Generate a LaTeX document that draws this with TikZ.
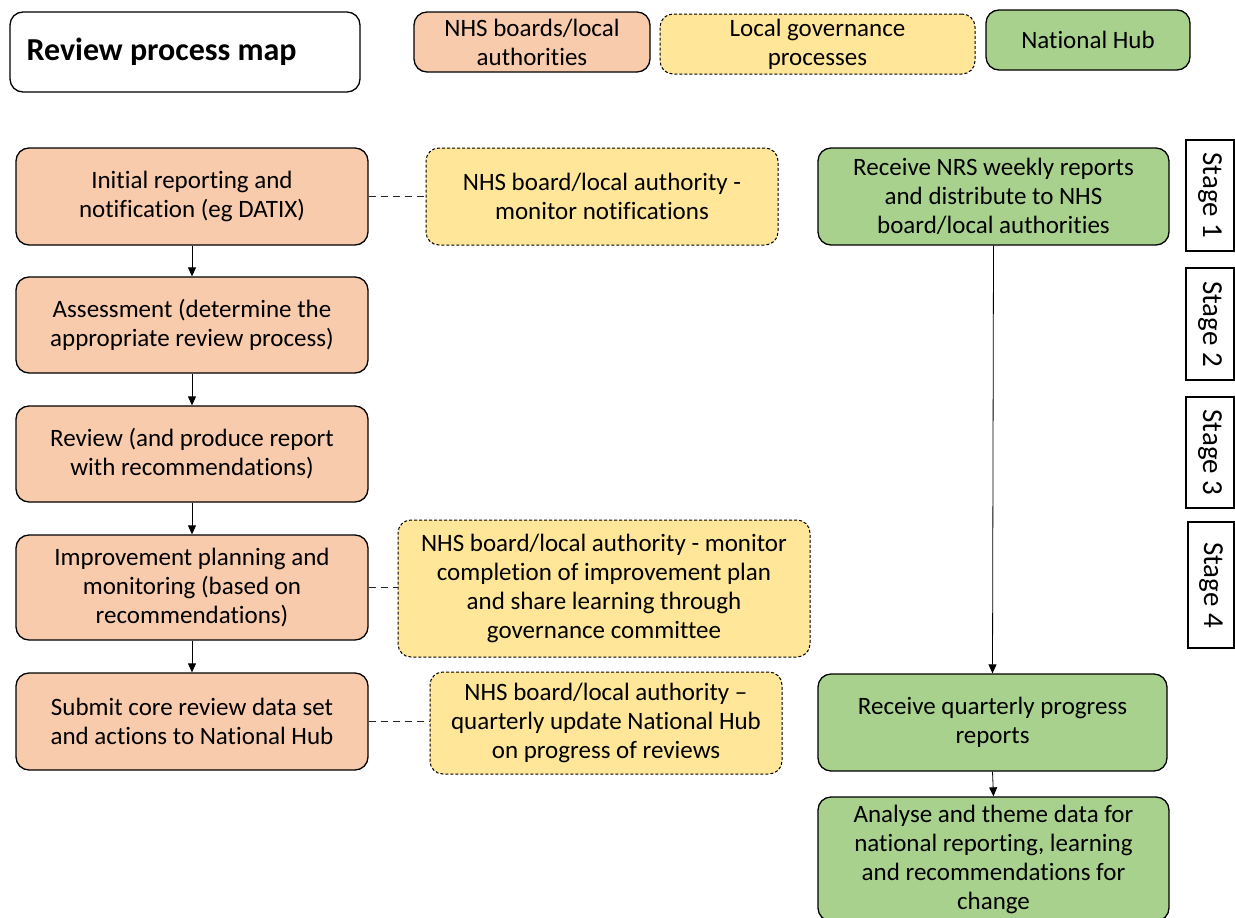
\documentclass[tikz,border=0pt]{standalone}
\usepackage{fontspec}
\setmainfont[Ligatures=NoCommon]{Carlito}
\usetikzlibrary{arrows.meta}
\definecolor{salmon}{HTML}{F8CBAD}
\definecolor{gold}{HTML}{FFE699}
\definecolor{leaf}{HTML}{A9D18E}
\tikzset{
  txt/.style={font=\fontsize{25}{29}\selectfont, align=center, inner sep=0pt},
  box/.style={txt, draw=black, line width=1.3pt, rounded corners=13pt},
  nhsbox/.style={box, fill=salmon},
  govbox/.style={box, fill=gold, dashed, dash pattern=on 3pt off 2pt, line width=1pt},
  hubbox/.style={box, fill=leaf},
  stagebox/.style={draw=black, line width=1.2pt, fill=white, inner sep=0pt},
  stagetxt/.style={txt, rotate=-90, font=\fontsize{29}{30}\selectfont},
  flow/.style={draw=black, line width=0.8pt, -{Triangle[length=9pt,width=8pt]}},
  link/.style={draw=black!85, line width=1.6pt, dash pattern=on 7pt off 5pt},
}
\begin{document}
\begin{tikzpicture}[x=1pt,y=-1pt]
\useasboundingbox (0,0) rectangle (1235,918);
% legend
\node[box, fill=white, minimum width=350pt, minimum height=80pt] (title) at (185,52) {};
\node[inner sep=0pt, anchor=west, font=\fontsize{32}{36}\selectfont\bfseries] (titletxt) at ([xshift=17pt]title.west) {Review process map};
\node[nhsbox, minimum width=236pt, minimum height=60pt] (leg1) at (532,42) {NHS boards/local\\authorities};
\node[govbox, minimum width=315pt, minimum height=60pt] (leg2) at (817.5,44) {Local governance\\processes};
\node[hubbox, minimum width=204pt, minimum height=60pt] (leg3) at (1088,40) {National Hub};
% left column
\node[nhsbox, minimum width=352pt, minimum height=97pt] (b1) at (192,196.5) {Initial reporting and\\notification (eg DATIX)};
\node[nhsbox, minimum width=352pt, minimum height=96pt] (b2) at (192,325) {Assessment (determine the\\appropriate review process)};
\node[nhsbox, minimum width=352pt, minimum height=96pt] (b3) at (192,454) {Review (and produce report\\with recommendations)};
\node[nhsbox, minimum width=352pt, minimum height=105pt] (b4) at (192,587.5) {Improvement planning and\\monitoring (based on\\recommendations)};
\node[nhsbox, minimum width=352pt, minimum height=97pt] (b5) at (192,721.5) {Submit core review data set\\and actions to National Hub};
% governance column
\node[govbox, minimum width=352pt, minimum height=97pt] (y1) at (602,196.5) {NHS board/local authority -\\monitor notifications};
\node[govbox, minimum width=412pt, minimum height=137pt] (y2) at (604,588.5) {NHS board/local authority - monitor\\completion of improvement plan\\and share learning through\\governance committee};
\node[govbox, minimum width=352pt, minimum height=102pt] (y3) at (606,723) {NHS board/local authority –\\quarterly update National Hub\\on progress of reviews};
% hub column
\node[hubbox, minimum width=351pt, minimum height=97pt] (g1) at (993.5,196.5) {Receive NRS weekly reports\\and distribute to NHS\\board/local authorities};
\node[hubbox, minimum width=349pt, minimum height=97pt] (g2) at (992.5,722.5) {Receive quarterly progress\\reports};
\node[hubbox, minimum width=351pt, minimum height=124pt] (g3) at (993.5,859) {Analyse and theme data for\\national reporting, learning\\and recommendations for\\change};
% stages
\node[stagebox, minimum width=48pt, minimum height=111pt] (s1) at (1210,195.5) {};
\node[stagetxt] (s1t) at (s1.center) {Stage 1};
\node[stagebox, minimum width=48pt, minimum height=112pt] (s2) at (1210,324) {};
\node[stagetxt] (s2t) at (s2.center) {Stage 2};
\node[stagebox, minimum width=48pt, minimum height=111pt] (s3) at (1210,452.5) {};
\node[stagetxt] (s3t) at (s3.center) {Stage 3};
\node[stagebox, minimum width=46pt, minimum height=126pt] (s4) at (1211,585) {};
\node[stagetxt] (s4t) at (s4.center) {Stage 4};
% connectors
\draw[flow] (b1.south) -- (b2.north);
\draw[flow] (b2.south) -- (b3.north);
\draw[flow] (b3.south) -- (b4.north);
\draw[flow] (b4.south) -- (b5.north);
\draw[flow] (g1.south) -- (g2.north);
\draw[flow] (g2.south) -- (g3.north);
\draw[link] (b1.east) -- (y1.west);
\draw[link] (b4.east) -- (b4.east -| y2.west);
\draw[link] (b5.east) -- (b5.east -| y3.west);
\end{tikzpicture}
\end{document}
